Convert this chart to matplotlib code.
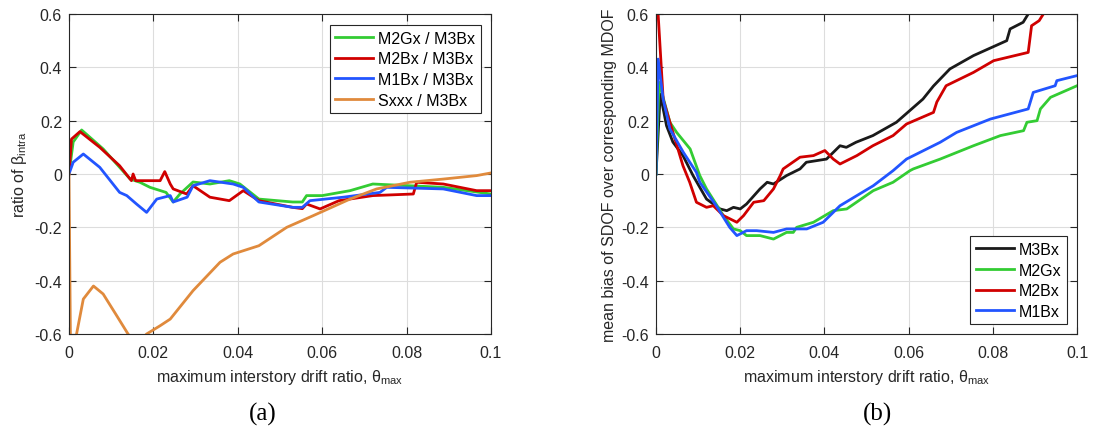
import matplotlib
matplotlib.use('Agg')
import matplotlib.pyplot as plt

plt.rcParams['font.family'] = ['Liberation Sans', 'DejaVu Sans']
plt.rcParams['mathtext.fontset'] = 'custom'
plt.rcParams['mathtext.rm'] = 'Liberation Sans'
plt.rcParams['mathtext.it'] = 'Liberation Sans:italic'
plt.rcParams['font.size'] = 11.5

# ---------------------- panel (a) data ----------------------
a_m2gx_x = [0, 0.001, 0.003, 0.0081, 0.0145, 0.0168, 0.0192, 0.023, 0.0247, 0.0263, 0.0294,
            0.0334, 0.038, 0.0405, 0.045, 0.053, 0.0553, 0.0563, 0.060, 0.0666, 0.072, 0.0887, 0.1]
a_m2gx_y = [0, 0.12, 0.165, 0.094, -0.019, -0.031, -0.05, -0.069, -0.105, -0.075, -0.03,
            -0.0375, -0.025, -0.0375, -0.094, -0.105, -0.105, -0.081, -0.081, -0.0625, -0.0375, -0.05, -0.075]

a_m2bx_x = [0, 0.0006, 0.0026, 0.0073, 0.012, 0.0148, 0.0152, 0.0158, 0.0168, 0.0216, 0.0227, 0.024,
            0.0247, 0.0279, 0.0294, 0.0334, 0.038, 0.0413, 0.045, 0.053, 0.0553, 0.0563, 0.0595,
            0.064, 0.072, 0.0816, 0.0824, 0.0887, 0.0966, 0.1]
a_m2bx_y = [0, 0.131, 0.159, 0.1, 0.031, -0.025, 0.0, -0.025, -0.025, -0.025, 0.009, -0.0375,
            -0.056, -0.075, -0.044, -0.087, -0.1, -0.0625, -0.1, -0.125, -0.13, -0.1125, -0.131,
            -0.1, -0.081, -0.075, -0.031, -0.0375, -0.0625, -0.0625]

a_m1bx_x = [0, 0.001, 0.0034, 0.0073, 0.012, 0.0137, 0.016, 0.0184, 0.0208, 0.024, 0.0247, 0.028,
            0.0294, 0.0334, 0.0389, 0.0413, 0.045, 0.053, 0.0553, 0.0571, 0.065, 0.0737, 0.0753,
            0.0887, 0.0966, 0.1]
a_m1bx_y = [0, 0.044, 0.075, 0.025, -0.069, -0.081, -0.1125, -0.144, -0.094, -0.081, -0.105, -0.087,
            -0.044, -0.025, -0.0375, -0.05, -0.105, -0.125, -0.125, -0.1, -0.087, -0.069, -0.05,
            -0.056, -0.081, -0.081]

a_sxxx_x = [0, 0.0004, 0.0018, 0.0034, 0.0058, 0.0081, 0.0113, 0.014, 0.016, 0.0184, 0.0216, 0.024,
            0.0294, 0.0358, 0.0389, 0.045, 0.0516, 0.0579, 0.0666, 0.0729, 0.0808, 0.0887, 0.0966, 0.1]
a_sxxx_y = [0, -0.7, -0.6, -0.469, -0.42, -0.45, -0.531, -0.6, -0.64, -0.6, -0.569, -0.544,
            -0.4375, -0.331, -0.3, -0.269, -0.2, -0.156, -0.094, -0.056, -0.031, -0.019, -0.006, 0.004]

# ---------------------- panel (b) data ----------------------
b_m3bx_x = [0, 0.001, 0.0025, 0.004, 0.0064, 0.0088, 0.012, 0.0152, 0.0168, 0.0184, 0.02, 0.0215,
            0.0247, 0.0264, 0.0279, 0.031, 0.0342, 0.0357, 0.0405, 0.0437, 0.0452, 0.0475, 0.0515,
            0.0571, 0.0634, 0.0659, 0.0698, 0.0754, 0.0833, 0.0841, 0.0872, 0.0884, 0.09]
b_m3bx_y = [0, 0.3, 0.181, 0.12, 0.069, -0.006, -0.094, -0.131, -0.1375, -0.125, -0.131, -0.1125,
            -0.056, -0.031, -0.0375, -0.006, 0.019, 0.044, 0.056, 0.106, 0.1, 0.119, 0.144,
            0.194, 0.281, 0.33, 0.394, 0.444, 0.5, 0.544, 0.569, 0.6, 0.65]

b_m2gx_x = [0, 0.0007, 0.0033, 0.0049, 0.0081, 0.0104, 0.012, 0.016, 0.0184, 0.02, 0.0215, 0.0247,
            0.0279, 0.031, 0.0326, 0.0334, 0.0374, 0.0421, 0.0453, 0.0516, 0.0563, 0.0603, 0.0611,
            0.0675, 0.0754, 0.0818, 0.0873, 0.0881, 0.0905, 0.0913, 0.0937, 0.1]
b_m2gx_y = [0, 0.344, 0.194, 0.156, 0.094, -0.006, -0.056, -0.156, -0.206, -0.2125, -0.231, -0.231,
            -0.244, -0.219, -0.219, -0.2, -0.181, -0.1375, -0.131, -0.0625, -0.031, 0.0125, 0.019,
            0.056, 0.106, 0.144, 0.1625, 0.194, 0.2, 0.244, 0.2875, 0.331]

b_m2bx_x = [0.0003, 0.0005, 0.0017, 0.0033, 0.0064, 0.008, 0.0096, 0.012, 0.0136, 0.016, 0.0192,
            0.0208, 0.0232, 0.0256, 0.0279, 0.0295, 0.0302, 0.0342, 0.0374, 0.0401, 0.0421, 0.0437,
            0.0477, 0.0515, 0.0563, 0.0595, 0.0659, 0.0667, 0.0689, 0.0754, 0.0802, 0.0884, 0.0892,
            0.091, 0.092, 0.093]
b_m2bx_y = [0.7, 0.6, 0.28, 0.194, 0.031, -0.031, -0.106, -0.125, -0.119, -0.156, -0.181,
            -0.156, -0.106, -0.1, -0.056, -0.006, 0.019, 0.063, 0.069, 0.088, 0.056, 0.0375,
            0.069, 0.106, 0.144, 0.1875, 0.231, 0.27, 0.331, 0.381, 0.425, 0.456, 0.556,
            0.575, 0.6, 0.65]

b_m1bx_x = [0, 0.0005, 0.0017, 0.0033, 0.0065, 0.0096, 0.0104, 0.0143, 0.0175, 0.0192, 0.0215,
            0.0239, 0.0279, 0.031, 0.0358, 0.0397, 0.0437, 0.0477, 0.0516, 0.0563, 0.0595, 0.0675,
            0.0714, 0.0794, 0.0884, 0.0896, 0.0948, 0.0952, 0.1]
b_m1bx_y = [0, 0.431, 0.28, 0.169, 0.081, 0.006, -0.031, -0.119, -0.2, -0.231, -0.2125,
            -0.2125, -0.219, -0.206, -0.206, -0.181, -0.119, -0.081, -0.044, 0.0125, 0.056, 0.119,
            0.156, 0.206, 0.244, 0.306, 0.331, 0.35, 0.369]

ticks_x = [0, 0.02, 0.04, 0.06, 0.08, 0.1]
ticks_y = [-0.6, -0.4, -0.2, 0, 0.2, 0.4, 0.6]

green = '#33CC33'
red = '#D00000'
blue = '#2255FF'
orange = '#E08A3C'
black = '#1A1A1A'
axc = '#262626'

fig = plt.figure(figsize=(10.93, 4.35), dpi=100)
ax1 = fig.add_axes([0.0631, 0.2299, 0.3861, 0.7356])
ax2 = fig.add_axes([0.6002, 0.2299, 0.3852, 0.7356])

lw = 2.0
ax1.plot(a_m2gx_x, a_m2gx_y, color=green, lw=lw, label='M2Gx / M3Bx')
ax1.plot(a_m2bx_x, a_m2bx_y, color=red, lw=lw, label='M2Bx / M3Bx')
ax1.plot(a_m1bx_x, a_m1bx_y, color=blue, lw=lw, label='M1Bx / M3Bx')
ax1.plot(a_sxxx_x, a_sxxx_y, color=orange, lw=lw, label='Sxxx / M3Bx')

ax2.plot(b_m3bx_x, b_m3bx_y, color=black, lw=lw, label='M3Bx')
ax2.plot(b_m2gx_x, b_m2gx_y, color=green, lw=lw, label='M2Gx')
ax2.plot(b_m2bx_x, b_m2bx_y, color=red, lw=lw, label='M2Bx')
ax2.plot(b_m1bx_x, b_m1bx_y, color=blue, lw=lw, label='M1Bx')

for ax in (ax1, ax2):
    ax.set_xlim(0, 0.1)
    ax.set_ylim(-0.6, 0.6)
    ax.set_xticks(ticks_x)
    ax.set_xticklabels(['0', '0.02', '0.04', '0.06', '0.08', '0.1'])
    ax.set_yticks(ticks_y)
    ax.set_yticklabels(['-0.6', '-0.4', '-0.2', '0', '0.2', '0.4', '0.6'])
    ax.grid(True, color='#DDDDDD', lw=0.8)
    ax.set_axisbelow(True)
    ax.tick_params(direction='in', top=True, right=True, length=5, colors=axc,
                   labelsize=11.5, labelcolor=axc, pad=5)
    ax.tick_params(axis='x', pad=8)
    for s in ax.spines.values():
        s.set_color(axc)
        s.set_linewidth(0.8)
    ax.set_xlabel('maximum interstory drift ratio, θ$_{\\mathrm{max}}$', color=axc,
                  fontsize=11.5, labelpad=5)

ax1.set_ylabel('ratio of β$_{\\mathrm{intra}}$', color=axc, fontsize=11.5, labelpad=4)
ax2.set_ylabel('mean bias of SDOF over corresponding MDOF', color=axc, fontsize=11.5, labelpad=3)

leg1 = ax1.legend(loc='upper right', bbox_to_anchor=(0.976, 0.965), fancybox=False, framealpha=1,
                  edgecolor=axc, handlelength=2.4, handletextpad=0.3, borderpad=0.35,
                  labelspacing=0.35, fontsize=11.5, borderaxespad=0)
leg1.get_frame().set_linewidth(0.8)
leg2 = ax2.legend(loc='lower right', bbox_to_anchor=(0.976, 0.03), fancybox=False, framealpha=1,
                  edgecolor=axc, handlelength=2.4, handletextpad=0.3, borderpad=0.35,
                  labelspacing=0.35, fontsize=11.5, borderaxespad=0)
leg2.get_frame().set_linewidth(0.8)

fig.text(263 / 1093, 1 - 414 / 435, '(a)', ha='center', va='center', fontsize=18,
         family='Liberation Serif')
fig.text(878 / 1093, 1 - 414 / 435, '(b)', ha='center', va='center', fontsize=18,
         family='Liberation Serif')

fig.savefig('out.png', dpi=100)
